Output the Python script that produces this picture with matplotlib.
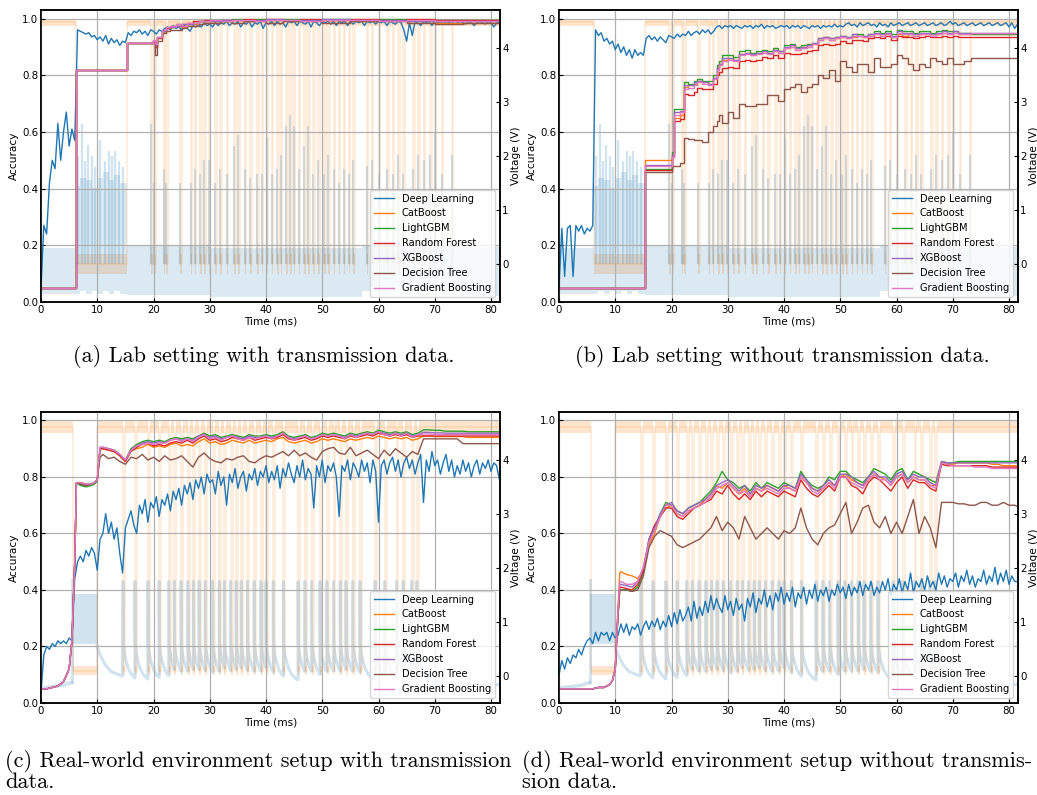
import numpy as np
import matplotlib
matplotlib.use("Agg")
import matplotlib.pyplot as plt

MODELS = ["Deep Learning", "CatBoost", "LightGBM", "Random Forest",
          "XGBoost", "Decision Tree", "Gradient Boosting"]
COLORS = ["#1f77b4", "#ff7f0e", "#2ca02c", "#d62728",
          "#9467bd", "#8c564b", "#e377c2"]
BLUE, ORANGE = "#1f77b4", "#ff7f0e"
XMAX = 81.6
DL_STEP = 0.5   # ms between deep-learning samples

# ------------------------------------------------------------------ (a)
a_dl = [.05,.27,.24,.42,.50,.47,.63,.50,.60,.67,
        .55,.61,.57,.96,.955,.95,.945,.95,.935,.94,
        .925,.935,.92,.94,.91,.93,.915,.925,.905,.92,
        .915,.95,.94,.955,.95,.96,.945,.955,.94,.96,
        .955,.945,.96,.955,.965,.97,.96,.975,.965,.97,
        .96,.975,.965,.955,.975,.97,.98,.97,.985,.975,
        .98,.97,.985,.975,.985,.98,.99,.975,.985,.98,
        .99,.97,.985,.98,.99,.97,.985,.98,.99,.965,
        .985,.98,.99,.975,.99,.98,.985,.97,.99,.985,
        .99,.975,.99,.985,.98,.99,.97,.99,.985,.975,
        .99,.985,.99,.98,.99,.975,.99,.985,.99,.975,
        .99,.98,.99,.985,.99,.975,.99,.985,.99,.98,
        .99,.985,.99,.975,.99,.985,.98,.99,.985,.96,
        .92,.985,.94,.99,.985,.975,.99,.985,.99,.975,
        .99,.985,.99,.98,.99,.985,.99,.98,.985,.99,
        .985,.98,.99,.985,.975,.985,.99,.985,.98,.99,
        .985,.97,.985,.985]
a_tree_t = [0, 6.2, 15.3, 19.9, 20.2, 20.6, 21.5, 22.3, 23, 24,
            25, 26, 27, 28, 29, 30, 32, 34, 36, 38,
            40, 43, 46, 50, 55, 60, 65, 70, 75, XMAX]
a_cat = [.05,.82,.915,.92,.90,.93,.95,.965,.97,.975,
         .97,.98,.98,.99,.985,.99,.99,.995,.99,.995,
         .995,.99,.995,.995,.99,.995,.99,.985,.985,.985]
a_lgbm = [.05,.82,.915,.92,.91,.935,.955,.97,.97,.98,
          .975,.98,.985,.99,.99,.995,.99,1.0,.995,1.0,
          .995,1.0,.995,1.0,.995,1.0,.995,.995,.995,.995]
a_rf = [.05,.82,.915,.92,.90,.93,.955,.965,.975,.975,
        .98,.985,.99,.99,.995,.99,.995,.995,1.0,.995,
        1.0,.995,1.0,.995,1.0,.995,1.0,.995,.995,.995]
a_xgb = [.05,.82,.915,.92,.905,.935,.955,.97,.97,.975,
         .98,.98,.985,.99,.99,.99,.995,.995,.99,.995,
         1.0,.995,.995,1.0,.995,.995,.99,.99,.99,.99]
a_dt = [.05,.82,.915,.915,.87,.92,.95,.955,.96,.96,
        .965,.975,.975,.98,.985,.985,.99,.985,.99,.99,
        .985,.99,.99,.985,.99,.99,.985,.98,.985,.985]
a_gb = [.05,.82,.915,.925,.91,.935,.96,.97,.975,.98,
        .975,.985,.985,.99,.99,.995,.99,.995,.995,.99,
        .995,.995,.99,.995,.995,.99,.995,.99,.99,.99]

# ------------------------------------------------------------------ (b)
b_dl = [.05,.26,.09,.26,.27,.09,.27,.25,.27,.24,
        .26,.25,.27,.96,.94,.95,.92,.93,.91,.92,
        .89,.91,.88,.90,.87,.89,.86,.89,.87,.88,
        .87,.93,.94,.925,.935,.92,.935,.925,.915,.94,
        .935,.93,.945,.935,.945,.94,.955,.94,.95,.955,
        .945,.96,.95,.96,.945,.955,.97,.975,.965,.975,
        .97,.975,.965,.975,.97,.965,.975,.97,.975,.965,
        .975,.97,.98,.965,.975,.97,.975,.965,.97,.975,
        .97,.975,.965,.975,.97,.975,.965,.975,.97,.965,
        .975,.97,.975,.965,.975,.97,.975,.97,.98,.97,
        .975,.97,.98,.985,.975,.98,.97,.985,.975,.98,
        .985,.975,.98,.97,.985,.975,.98,.97,.985,.975,
        .98,.985,.975,.98,.985,.975,.98,.985,.975,.98,
        .985,.975,.98,.985,.975,.98,.985,.975,.98,.99,
        .98,.985,.975,.98,.985,.975,.98,.985,.975,.98,
        .985,.975,.98,.985,.975,.98,.985,.975,.98,.985,
        .97,.985,.965,.98]
b_tree_t = [0, 15.3, 20.1, 20.5, 21.5, 22.3, 23, 24, 24.6, 25.5,
            26.5, 27.3, 28, 28.5, 29, 30, 31, 32, 33, 34,
            35, 36, 37, 38, 39, 40, 41, 42, 43, 44,
            45, 46, 47, 48, 49, 50, 51, 52, 53, 54,
            55, 56, 57, 58, 59, 60, 61, 62, 63, 64,
            65, 66, 67, 68, 69, 70, 71, 72, 73.2, XMAX]
b_cat = [.05,.50,.52,.65,.66,.76,.765,.77,.78,.775,
         .77,.79,.83,.84,.855,.86,.855,.875,.88,.875,
         .88,.885,.88,.89,.88,.895,.90,.895,.90,.905,
         .91,.925,.93,.925,.93,.935,.93,.935,.94,.935,
         .94,.945,.94,.945,.935,.945,.94,.945,.94,.945,
         .945,.94,.945,.95,.945,.95,.945,.945,.945,.945]
b_lgbm = [.05,.47,.53,.68,.68,.775,.77,.78,.785,.78,
          .78,.80,.835,.85,.87,.87,.865,.885,.89,.88,
          .885,.89,.885,.895,.885,.905,.91,.90,.905,.91,
          .915,.93,.935,.93,.935,.94,.935,.945,.945,.94,
          .945,.955,.95,.955,.945,.96,.955,.955,.95,.955,
          .955,.95,.955,.96,.955,.955,.95,.95,.945,.945]
b_rf = [.05,.465,.51,.64,.645,.735,.73,.74,.755,.75,
        .75,.77,.80,.81,.825,.83,.825,.85,.855,.85,
        .855,.865,.86,.87,.86,.88,.875,.875,.88,.885,
        .89,.905,.91,.905,.91,.92,.915,.925,.925,.92,
        .93,.935,.93,.94,.925,.94,.935,.935,.93,.935,
        .94,.935,.935,.94,.935,.94,.935,.935,.935,.935]
b_xgb = [.05,.485,.52,.67,.675,.765,.765,.775,.78,.775,
         .77,.79,.825,.84,.86,.86,.855,.875,.88,.875,
         .88,.885,.88,.89,.885,.90,.905,.895,.90,.905,
         .915,.93,.935,.93,.935,.94,.935,.945,.94,.94,
         .945,.95,.945,.95,.94,.955,.95,.95,.945,.95,
         .95,.945,.95,.955,.95,.955,.95,.95,.95,.95]
b_dt = [.05,.46,.48,.48,.49,.58,.575,.57,.57,.565,
        .60,.62,.64,.66,.63,.67,.65,.70,.69,.69,
        .70,.70,.73,.73,.71,.75,.76,.77,.74,.76,
        .77,.80,.79,.82,.78,.85,.83,.81,.84,.84,
        .81,.86,.83,.83,.84,.87,.86,.84,.82,.84,
        .83,.86,.85,.84,.86,.84,.84,.85,.86,.83]
b_gb = [.05,.48,.51,.66,.67,.75,.755,.765,.775,.77,
        .765,.785,.82,.835,.85,.855,.85,.87,.875,.87,
        .875,.88,.875,.885,.88,.895,.90,.89,.895,.90,
        .91,.925,.93,.925,.93,.935,.93,.94,.94,.935,
        .94,.945,.94,.945,.935,.95,.945,.945,.94,.945,
        .945,.94,.945,.95,.945,.95,.945,.945,.95,.95]

# ------------------------------------------------------------------ (c)
c_dl = [.04,.17,.20,.19,.21,.20,.22,.21,.22,.21,
        .23,.22,.44,.50,.52,.50,.54,.52,.55,.53,
        .47,.58,.60,.67,.60,.64,.58,.62,.53,.46,
        .62,.65,.68,.63,.60,.70,.67,.72,.64,.71,
        .69,.73,.66,.72,.70,.74,.68,.75,.72,.76,
        .70,.77,.74,.78,.72,.79,.76,.80,.74,.81,
        .78,.79,.74,.82,.77,.80,.70,.81,.78,.83,
        .76,.80,.82,.75,.81,.79,.83,.77,.82,.80,
        .84,.78,.82,.79,.84,.76,.83,.80,.85,.81,
        .78,.84,.80,.86,.79,.83,.81,.69,.84,.80,
        .86,.78,.84,.82,.85,.80,.66,.84,.82,.86,
        .79,.85,.83,.80,.86,.82,.85,.78,.86,.82,
        .64,.84,.86,.81,.85,.87,.82,.86,.80,.85,
        .87,.83,.86,.81,.85,.88,.71,.86,.82,.89,
        .84,.86,.81,.85,.88,.82,.86,.80,.84,.81,
        .86,.82,.85,.80,.84,.86,.81,.85,.83,.86,
        .82,.85,.84,.79]
c_tree_t = [0, 1, 2, 3, 4, 5, 5.5, 6, 6.3, 7, 8, 9, 9.5, 10, 10.5] + \
           list(range(11, 82)) + [XMAX]
c_cat = [.05,.05,.055,.06,.075,.12,.22,.5,.78,.78,.775,.775,.78,.79,.90,
         .90,.895,.89,.875,.855,.895,.90,.905,.915,.905,
         .91,.905,.915,.92,.91,.915,.91,.925,.935,.92,
         .925,.915,.92,.93,.925,.92,.93,.92,.925,.93,
         .925,.935,.94,.925,.92,.925,.93,.92,.925,.935,
         .93,.935,.93,.925,.935,.93,.935,.94,.935,.945,
         .94,.935,.94,.935,.94,.93,.935,.945,.945,.943,
         .943,.943,.943,.943,.943,.94,.94,.94,.94,.94,.94,
         .94]
c_lgbm = [.05,.05,.055,.06,.075,.12,.22,.5,.78,.77,.765,.77,.775,.785,.90,
          .905,.90,.895,.88,.86,.90,.915,.925,.93,.925,
          .93,.925,.935,.94,.935,.94,.935,.945,.955,.945,
          .95,.94,.945,.95,.945,.94,.95,.945,.945,.95,
          .945,.95,.96,.945,.94,.945,.95,.94,.945,.955,
          .95,.955,.95,.945,.955,.95,.955,.96,.955,.965,
          .96,.955,.96,.955,.96,.95,.955,.967,.967,.965,
          .965,.962,.962,.962,.962,.96,.96,.96,.96,.96,.96,
          .96]
c_rf = [.05,.05,.055,.06,.075,.12,.22,.5,.78,.775,.77,.775,.78,.79,.90,
        .90,.895,.89,.875,.855,.89,.905,.915,.92,.91,
        .915,.91,.92,.925,.92,.93,.92,.935,.945,.93,
        .935,.925,.93,.94,.935,.93,.94,.93,.935,.94,
        .935,.94,.95,.935,.93,.935,.94,.93,.935,.945,
        .94,.945,.94,.935,.945,.94,.945,.95,.945,.955,
        .95,.945,.95,.945,.95,.94,.945,.945,.945,.945,
        .945,.945,.945,.945,.945,.945,.945,.945,.945,.945,.945,
        .945]
c_xgb = [.05,.05,.055,.06,.075,.12,.22,.5,.78,.78,.775,.775,.78,.79,.905,
         .905,.90,.895,.88,.86,.895,.91,.92,.925,.92,
         .925,.92,.93,.935,.93,.935,.93,.945,.95,.94,
         .945,.935,.94,.945,.94,.935,.945,.94,.94,.945,
         .94,.945,.955,.94,.935,.94,.945,.935,.94,.95,
         .945,.95,.945,.94,.95,.945,.95,.955,.95,.96,
         .955,.95,.955,.95,.955,.945,.95,.958,.958,.956,
         .956,.955,.955,.955,.955,.955,.955,.955,.955,.955,.955,
         .955]
c_dt = [.05,.05,.055,.06,.075,.12,.22,.5,.78,.775,.77,.775,.78,.79,.87,
        .88,.865,.87,.855,.845,.87,.865,.88,.86,.87,
        .855,.875,.86,.865,.875,.855,.835,.87,.885,.865,
        .855,.85,.865,.86,.87,.875,.855,.85,.865,.875,
        .87,.88,.89,.875,.895,.875,.885,.87,.86,.89,
        .90,.905,.885,.88,.905,.875,.885,.895,.88,.865,
        .895,.875,.90,.885,.87,.89,.88,.935,.935,.935,
        .935,.935,.935,.935,.918,.918,.918,.918,.918,.918,.918,
        .918]
c_gb = [.05,.05,.055,.06,.075,.12,.22,.5,.78,.78,.775,.775,.78,.79,.905,
        .905,.90,.895,.88,.86,.895,.91,.915,.92,.915,
        .92,.92,.93,.935,.925,.935,.925,.94,.95,.935,
        .94,.93,.94,.945,.935,.93,.94,.935,.94,.945,
        .935,.945,.955,.94,.93,.94,.945,.935,.94,.95,
        .945,.95,.945,.935,.95,.94,.95,.955,.95,.96,
        .95,.945,.955,.945,.955,.94,.95,.952,.952,.95,
        .95,.95,.95,.95,.95,.95,.95,.95,.95,.95,.95,
        .95]

# ------------------------------------------------------------------ (d)
d_dl = [.10,.15,.12,.16,.14,.17,.16,.19,.17,.20,
        .22,.23,.21,.25,.22,.25,.24,.25,.22,.25,
        .23,.24,.28,.25,.28,.24,.27,.26,.28,.24,
        .27,.29,.26,.29,.27,.30,.26,.29,.27,.31,
        .27,.32,.28,.33,.29,.31,.34,.29,.36,.30,
        .34,.31,.36,.32,.38,.33,.37,.34,.32,.38,
        .33,.36,.31,.37,.33,.35,.29,.37,.34,.39,
        .32,.37,.35,.40,.34,.38,.33,.39,.36,.41,
        .35,.39,.36,.41,.34,.39,.37,.41,.35,.40,
        .37,.42,.36,.40,.38,.41,.36,.40,.38,.42,
        .39,.41,.37,.42,.38,.41,.39,.43,.38,.42,
        .40,.43,.38,.41,.39,.43,.40,.44,.38,.42,
        .40,.44,.39,.43,.40,.46,.39,.43,.41,.44,
        .40,.45,.41,.43,.40,.46,.42,.45,.41,.44,
        .43,.46,.41,.45,.43,.47,.42,.45,.41,.44,
        .43,.47,.42,.45,.43,.48,.42,.46,.43,.47,
        .42,.45,.43,.43]
d_tree_t = [0, 1, 2, 3, 4, 5, 6, 7, 8, 9, 9.5, 10, 10.4, 10.8] + \
           list(range(11, 82)) + [XMAX]
d_cat = [.05,.05,.05,.05,.05,.05,.05,.055,.055,.065,.08,.12,.30,.46,
         .465,.455,.45,.44,.47,.56,.60,.66,.69,.70,
         .67,.66,.68,.69,.70,.72,.74,.77,.76,.78,
         .76,.74,.76,.73,.76,.75,.77,.76,.75,.77,
         .76,.75,.80,.78,.76,.75,.76,.78,.77,.80,
         .81,.79,.78,.77,.79,.81,.80,.79,.77,.80,
         .81,.78,.80,.79,.79,.77,.77,.85,.845,.845,
         .85,.85,.85,.85,.85,.85,.845,.845,.84,.84,.84,
         .84]
d_lgbm = [.05,.05,.05,.05,.05,.05,.05,.055,.055,.065,.08,.12,.28,.40,
          .40,.40,.395,.41,.46,.57,.62,.67,.71,.70,
          .68,.67,.69,.70,.71,.73,.75,.78,.82,.79,
          .78,.76,.77,.75,.78,.76,.78,.77,.76,.78,
          .77,.76,.82,.79,.77,.76,.77,.80,.79,.82,
          .82,.80,.79,.78,.80,.83,.82,.81,.79,.82,
          .83,.79,.82,.81,.80,.79,.78,.855,.85,.85,
          .855,.855,.855,.855,.855,.855,.855,.855,.855,.855,.855,
          .855]
d_rf = [.05,.05,.05,.05,.05,.05,.05,.055,.055,.065,.08,.12,.28,.41,
        .41,.405,.40,.42,.47,.58,.63,.66,.69,.69,
        .66,.65,.67,.69,.70,.71,.72,.75,.74,.77,
        .74,.72,.74,.72,.75,.73,.75,.74,.73,.75,
        .74,.73,.79,.76,.74,.73,.75,.77,.75,.80,
        .80,.77,.76,.74,.78,.80,.79,.77,.75,.78,
        .80,.76,.79,.78,.78,.76,.75,.845,.84,.84,
        .84,.84,.84,.84,.84,.84,.835,.835,.835,.835,.835,
        .835]
d_xgb = [.05,.05,.05,.05,.05,.05,.05,.055,.055,.065,.08,.12,.29,.42,
         .42,.415,.41,.43,.48,.58,.62,.67,.70,.71,
         .68,.67,.69,.70,.71,.72,.74,.77,.78,.79,
         .77,.75,.77,.74,.77,.76,.77,.76,.75,.77,
         .77,.76,.81,.79,.76,.75,.77,.79,.77,.81,
         .81,.80,.78,.77,.80,.82,.80,.80,.78,.81,
         .82,.79,.81,.80,.80,.78,.77,.855,.85,.85,
         .85,.85,.85,.85,.85,.85,.85,.85,.85,.85,.85,
         .85]
d_dt = [.05,.05,.05,.05,.05,.05,.05,.055,.055,.065,.08,.12,.28,.40,
        .40,.40,.395,.40,.45,.55,.59,.61,.60,.59,
        .56,.55,.56,.57,.58,.60,.62,.66,.61,.64,
        .62,.58,.66,.62,.58,.60,.62,.60,.58,.61,
        .60,.62,.69,.62,.58,.56,.60,.62,.63,.67,
        .71,.60,.64,.69,.70,.64,.62,.66,.60,.64,
        .60,.66,.72,.60,.66,.62,.55,.71,.71,.71,
        .705,.705,.70,.70,.71,.71,.70,.70,.71,.70,.70,
        .695]
d_gb = [.05,.05,.05,.05,.05,.05,.05,.055,.055,.065,.08,.12,.29,.43,
        .43,.42,.42,.43,.48,.57,.61,.66,.70,.70,
        .67,.66,.68,.69,.70,.71,.73,.76,.77,.78,
        .76,.74,.75,.73,.76,.75,.76,.75,.74,.76,
        .76,.75,.80,.78,.75,.74,.76,.78,.76,.80,
        .80,.78,.77,.76,.79,.81,.79,.79,.77,.80,
        .81,.78,.80,.79,.79,.77,.76,.85,.845,.84,
        .84,.84,.84,.835,.835,.835,.83,.83,.83,.83,.83,
        .83]

# ------------------------------------------------------------------ voltages
# lab setting (a, b): pulse time (ms) and spike height (V)
lab_pulses = [(19.6, 2.6), (20.1, 1.5), (21.8, 1.76), (22.3, 1.5), (24.7, 1.5),
              (26.6, 1.5), (27.3, 1.76), (28.3, 1.66), (29.0, 1.92), (29.8, 1.92),
              (30.9, 1.5), (31.8, 1.76), (33.0, 1.66), (34.3, 2.18), (35.1, 2.39),
              (36.2, 1.76), (37.2, 1.6), (38.4, 1.66), (39.2, 1.66), (40.1, 2.34),
              (41.0, 1.66), (42.0, 1.76), (42.6, 2.02), (43.6, 2.55), (44.3, 2.76),
              (44.9, 2.55), (45.8, 1.76), (46.8, 2.18), (47.5, 2.55), (48.4, 1.66),
              (49.3, 1.92), (50.3, 1.66), (51.1, 2.02), (52.0, 1.76), (52.9, 1.5),
              (53.8, 1.76), (54.7, 1.66), (55.5, 1.92), (57.9, 1.81), (58.8, 1.92),
              (60.0, 1.66), (61.5, 1.76), (62.5, 1.66), (63.5, 2.02), (64.4, 1.66),
              (66.2, 1.76), (67.1, 2.02), (68.0, 1.92), (69.2, 2.02), (70.0, 2.44),
              (71.2, 1.66), (73.0, 2.02)]
lab_burst = [(6.5, 2.0), (7.2, 2.6), (7.8, 1.9), (8.4, 2.2), (9.1, 2.0),
             (9.6, 1.8), (10.5, 2.3), (11.3, 1.9), (12.0, 2.1), (12.6, 2.0),
             (13.2, 2.1), (13.9, 1.9), (14.6, 1.8)]
lab_blue_env = [(0.0, -0.55, 0.30), (6.2, -0.55, 1.45), (7.0, -0.5, 1.6),
                (8.0, -0.55, 1.55), (9.0, -0.5, 1.4), (10.0, -0.55, 1.6),
                (11.0, -0.5, 1.7), (12.0, -0.55, 1.55), (13.0, -0.5, 1.65),
                (14.0, -0.55, 1.5), (15.3, -0.57, 0.33), (30.0, -0.6, 0.30),
                (57.0, -0.5, 0.36), (75.0, -0.58, 0.32), (XMAX, -0.58, 0.32)]
lab_orange_long_low = (6.2, 15.3)
lab_dip_width = 0.3
lab_hi_band, lab_lo_band = (4.40, 4.54), (-0.18, 0.19)

# real-world environment (c, d)
real_pulses = [14.6, 16.7, 19.0, 21.0, 22.7, 23.7, 24.9, 26.1, 27.1, 28.1,
               29.2, 30.5, 31.7, 32.6, 33.7, 34.7, 35.6, 36.7, 37.9, 39.1,
               40.0, 41.3, 43.1, 45.7, 46.9, 48.1, 49.6, 50.8, 52.0, 53.2,
               54.2, 55.4, 56.7, 59.4, 61.1, 63.2, 64.4, 65.9, 66.8]
real_orange_long_low = (5.7, 10.0)
real_dip_width = 0.35
real_hi_band, real_lo_band = (4.50, 4.72), (0.02, 0.18)
real_base_t = [0.0, 2.0, 4.0, 5.45]
real_base_v = [-0.22, -0.2, -0.17, -0.12]
real_block = (5.45, 9.96, 0.6, 1.52)      # t0, t1, low V, high V
real_block_spike = 1.77
post_block_dt = [0.0, 0.5, 1.5, 2.5, 4.5]
post_block_v = [0.55, 0.40, 0.20, 0.08, 0.0]
decay_dt = [0.0, 0.04, 0.12, 0.3, 0.6, 1.0, 1.5, 2.2, 3.5, 6.0, 15.0]
decay_v = [1.75, 0.62, 0.50, 0.38, 0.25, 0.12, 0.03, -0.05, -0.12, -0.15, -0.16]

FS_TICK, FS_LABEL, FS_LEG = 7.4, 7.6, 7.1


# ------------------------------------------------------------------ helpers
def orange_digital(ax2, long_low, dips, width, hi_band, lo_band):
    lows = [long_low] + [(p, p + width) for p in dips]
    lows.sort()
    hm, lm = sum(hi_band) / 2, sum(lo_band) / 2
    ts, lo, up, mid = [0.0], [hi_band[0]], [hi_band[1]], [hm]
    for a, b in lows:
        ts += [a, a, b, b]
        lo += [hi_band[0], lo_band[0], lo_band[0], hi_band[0]]
        up += [hi_band[1], lo_band[1], lo_band[1], hi_band[1]]
        mid += [hm, lm, lm, hm]
    ts.append(XMAX); lo.append(hi_band[0]); up.append(hi_band[1]); mid.append(hm)
    ax2.fill_between(ts, lo, up, color=ORANGE, alpha=0.2, lw=0)
    ax2.plot(ts, mid, color=ORANGE, alpha=0.18, lw=1.1)


def lab_voltage(ax2):
    orange_digital(ax2, lab_orange_long_low, [p for p, _ in lab_pulses],
                   lab_dip_width, lab_hi_band, lab_lo_band)
    et = [e[0] for e in lab_blue_env]
    elo = [e[1] for e in lab_blue_env]
    ehi = [e[2] for e in lab_blue_env]
    ax2.fill_between(et, elo, ehi, step="post", color=BLUE, alpha=0.16, lw=0)
    pts = lab_pulses + lab_burst
    ax2.vlines([p for p, _ in pts], 0.0, [h for _, h in pts],
               color=BLUE, alpha=0.2, lw=1.6)


def real_voltage(ax2):
    orange_digital(ax2, real_orange_long_low, real_pulses, real_dip_width,
                   real_hi_band, real_lo_band)
    t0, t1, vlo, vhi = real_block
    ax2.fill_between([t0, t1], [vlo, vlo], [vhi, vhi], color=BLUE, alpha=0.2, lw=0)
    ax2.plot([t0, t0], [real_base_v[-1], real_block_spike], color=BLUE, alpha=0.2, lw=2)
    ts, vs = [], []
    for dt, v in zip(post_block_dt, post_block_v):
        ts.append(t1 + dt); vs.append(v)
    for i, p in enumerate(real_pulses):
        nxt = real_pulses[i + 1] if i + 1 < len(real_pulses) else XMAX
        for dt, v in zip(decay_dt, decay_v):
            if p + dt < nxt:
                ts.append(p + dt); vs.append(v)
        ts.append(nxt); vs.append(float(np.interp(nxt - p, decay_dt, decay_v)))
    ax2.plot(real_base_t, real_base_v, color=BLUE, alpha=0.2, lw=2.5)
    ax2.plot(ts, vs, color=BLUE, alpha=0.2, lw=2.2)


def draw_panel(rect, dl, tree_t, trees, voltage, vlim, steps):
    ax = fig.add_axes(rect)
    ax2 = ax.twinx()
    ax.set_zorder(ax2.get_zorder() + 1)
    ax.patch.set_visible(False)
    voltage(ax2)
    t_dl = np.arange(len(dl)) * DL_STEP
    ax.plot(t_dl, dl, color=COLORS[0], lw=1.0, label=MODELS[0])
    for k, vals in enumerate(trees, start=1):
        n = min(len(tree_t), len(vals))
        ax.plot(tree_t[:n], vals[:n], color=COLORS[k], lw=1.0, label=MODELS[k],
                drawstyle="steps-post" if steps else "default")
    ax.set_xlim(0, XMAX)
    ax.set_ylim(0, 1.03)
    ax.set_xticks(range(0, 81, 10))
    ax.set_yticks([0.0, 0.2, 0.4, 0.6, 0.8, 1.0])
    ax.grid(True, color="#b0b0b0", lw=0.9)
    ax.tick_params(labelsize=FS_TICK, direction="in", length=3, pad=2)
    ax.set_xlabel("Time (ms)", fontsize=FS_LABEL, labelpad=1)
    ax.set_ylabel("Accuracy", fontsize=FS_LABEL, labelpad=2)
    ax2.set_ylim(*vlim)
    ax2.set_yticks([0, 1, 2, 3, 4])
    ax2.tick_params(labelsize=FS_TICK, direction="in", length=3, pad=1.5)
    ax2.set_ylabel("Voltage (V)", fontsize=FS_LABEL)
    ax2.yaxis.set_label_coords(1.023, 0.5)
    for sp in list(ax.spines.values()) + list(ax2.spines.values()):
        sp.set_linewidth(1.1)
    ax.legend(loc="lower right", fontsize=FS_LEG, handlelength=2.0, framealpha=0.8)
    return ax


W, H = 1037, 795
fig = plt.figure(figsize=(W / 100, H / 100), dpi=100)


def rect(x0, y0, x1, y1):
    return [x0 / W, 1 - y1 / H, (x1 - x0) / W, (y1 - y0) / H]


lab_vlim = (-0.70, 4.70)
real_vlim = (-0.50, 4.89)
draw_panel(rect(41, 10, 500, 302), a_dl, a_tree_t,
           [a_cat, a_lgbm, a_rf, a_xgb, a_dt, a_gb], lab_voltage, lab_vlim, True)
draw_panel(rect(559, 10, 1018, 302), b_dl, b_tree_t,
           [b_cat, b_lgbm, b_rf, b_xgb, b_dt, b_gb], lab_voltage, lab_vlim, True)
draw_panel(rect(41, 412, 500, 703), c_dl, c_tree_t,
           [c_cat, c_lgbm, c_rf, c_xgb, c_dt, c_gb], real_voltage, real_vlim, False)
draw_panel(rect(559, 412, 1018, 703), d_dl, d_tree_t,
           [d_cat, d_lgbm, d_rf, d_xgb, d_dt, d_gb], real_voltage, real_vlim, False)

cap = dict(family="cmr10", fontsize=16)
fig.text(264 / W, 1 - 357 / H, "(a) Lab setting with transmission data.",
         ha="center", va="center", **cap)
fig.text(782 / W, 1 - 357 / H, "(b) Lab setting without transmission data.",
         ha="center", va="center", **cap)
fig.text(5 / W, 1 - 771 / H,
         "(c) Real-world environment setup with transmission\ndata.",
         ha="left", va="center", linespacing=1.0, **cap)
fig.text(522 / W, 1 - 771 / H,
         "(d) Real-world environment setup without transmis-\nsion data.",
         ha="left", va="center", linespacing=1.0, **cap)

fig.savefig("out.png", dpi=100)
